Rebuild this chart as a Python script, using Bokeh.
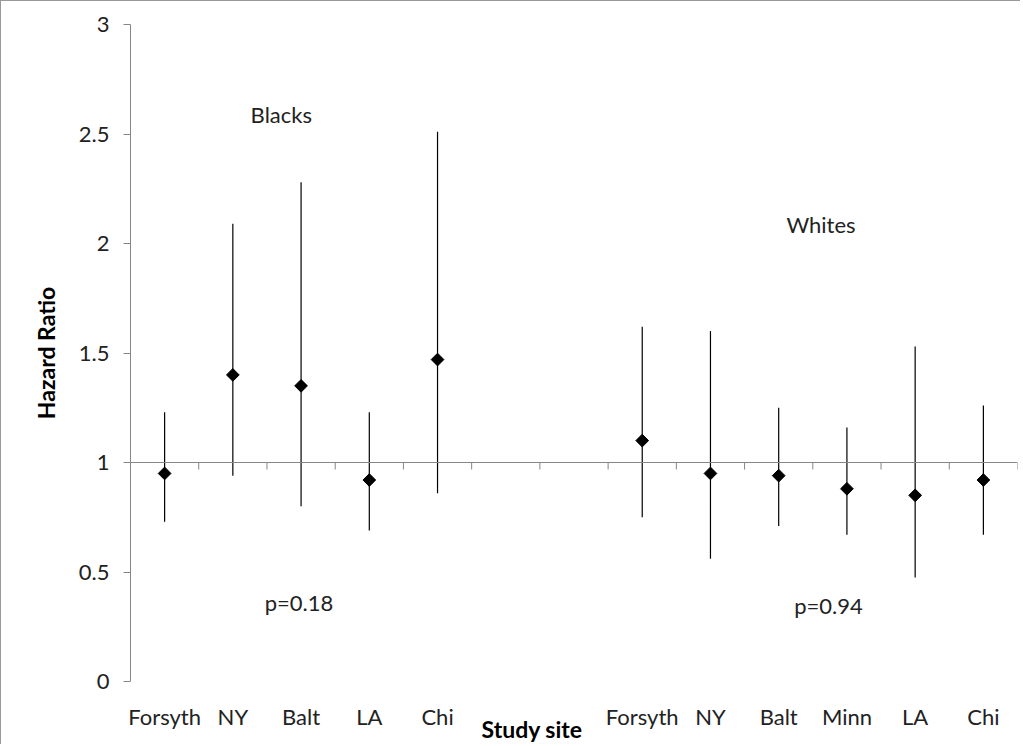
from bokeh.plotting import figure
from bokeh.models import FixedTicker, Span, Label
from bokeh.embed import file_html
from bokeh.resources import INLINE
import numpy as np

# Data
sites_black = ["Forsyth", "NY", "Balt", "LA", "Chi"]
hr_black = [0.95, 1.40, 1.35, 0.92, 1.47]
lo_black = [0.73, 0.94, 0.80, 0.69, 0.86]
hi_black = [1.23, 2.09, 2.28, 1.23, 2.51]

sites_white = ["Forsyth", "NY", "Balt", "Minn", "LA", "Chi"]
hr_white = [1.10, 0.95, 0.94, 0.88, 0.85, 0.92]
lo_white = [0.75, 0.56, 0.71, 0.67, 0.475, 0.67]
hi_white = [1.62, 1.60, 1.25, 1.16, 1.53, 1.26]

y_ticks = [0, 0.5, 1, 1.5, 2, 2.5, 3]
gap = 2  # empty category slots between groups

xb = list(range(1, len(sites_black) + 1))
xw = list(range(len(sites_black) + gap + 1, len(sites_black) + gap + len(sites_white) + 1))
n_cat = len(sites_black) + gap + len(sites_white)

FONT = "Lato"
GRAY = "#868686"
TXT = "#222222"

p = figure(width=1020, height=744, output_backend="svg", toolbar_location=None,
           x_range=(0.5, n_cat + 0.5), y_range=(0, 3),
           min_border_left=129, min_border_right=4, min_border_top=23, min_border_bottom=64)
p.outline_line_color = None
p.grid.visible = False
p.background_fill_color = "white"

# y axis
p.yaxis.ticker = FixedTicker(ticks=y_ticks)
p.yaxis.major_label_overrides = {t: ("%g" % t) for t in y_ticks}
p.yaxis.axis_line_color = GRAY
p.yaxis.major_tick_line_color = GRAY
p.yaxis.major_tick_in = 0
p.yaxis.major_tick_out = 7
p.yaxis.minor_tick_line_color = None
p.yaxis.major_label_text_font = FONT
p.yaxis.major_label_text_font_size = "22px"
p.yaxis.major_label_text_color = TXT
p.yaxis.major_label_standoff = 14
p.yaxis.axis_label = "Hazard Ratio"
p.yaxis.axis_label_text_font = FONT
p.yaxis.axis_label_text_font_style = "bold"
p.yaxis.axis_label_text_font_size = "23px"
p.yaxis.axis_label_text_color = "black"
p.yaxis.axis_label_standoff = 16

# x axis (labels only, placed low)
p.xaxis.ticker = FixedTicker(ticks=xb + xw)
labels = {}
for x, s in zip(xb, sites_black):
    labels[x] = s
for x, s in zip(xw, sites_white):
    labels[x] = s
p.xaxis.major_label_overrides = labels
p.xaxis.axis_line_color = None
p.xaxis.major_tick_line_color = None
p.xaxis.major_tick_in = 0
p.xaxis.major_tick_out = 0
p.xaxis.minor_tick_line_color = None
p.xaxis.minor_tick_out = 0
p.xaxis.major_label_text_font = FONT
p.xaxis.major_label_text_font_size = "22px"
p.xaxis.major_label_text_color = TXT
p.xaxis.major_label_standoff = 21
# trailing no-break spaces shift the centred title left, as in the original
p.xaxis.axis_label = "Study site" + "\u00a0" * 15
p.xaxis.axis_label_text_font = FONT
p.xaxis.axis_label_text_font_style = "bold"
p.xaxis.axis_label_text_font_size = "23px"
p.xaxis.axis_label_text_color = "black"
p.xaxis.axis_label_standoff = -18

# horizontal category axis line at HR = 1
p.add_layout(Span(location=1, dimension="width", line_color=GRAY, line_width=1.2))
bounds = np.arange(0.5, n_cat + 1, 1.0)
tick_len = 7 / 219.0
p.segment(x0=bounds, y0=[1] * len(bounds), x1=bounds, y1=[1 - tick_len] * len(bounds),
          line_color=GRAY, line_width=1)

# error bars and points
p.segment(x0=xb, y0=lo_black, x1=xb, y1=hi_black, line_color="black", line_width=1.2)
p.segment(x0=xw, y0=lo_white, x1=xw, y1=hi_white, line_color="black", line_width=1.2)
p.scatter(xb, hr_black, marker="square", angle=np.pi / 4, size=9,
          fill_color="black", line_color="black")
p.scatter(xw, hr_white, marker="square", angle=np.pi / 4, size=9,
          fill_color="black", line_color="black")

# annotations
def add_label(x, y, t):
    p.add_layout(Label(x=x, y=y, text=t, text_font=FONT, text_font_size="22px",
                       text_color=TXT, text_align="center", text_baseline="middle"))

add_label(2.71, 2.59, "Blacks")
add_label(10.62, 2.085, "Whites")
add_label(2.97, 0.362, "p=0.18")
add_label(10.73, 0.345, "p=0.94")

p.styles = {"border-left": "1px solid #999999", "border-top": "1px solid #999999"}

open("out.html", "w").write(file_html(p, INLINE))
